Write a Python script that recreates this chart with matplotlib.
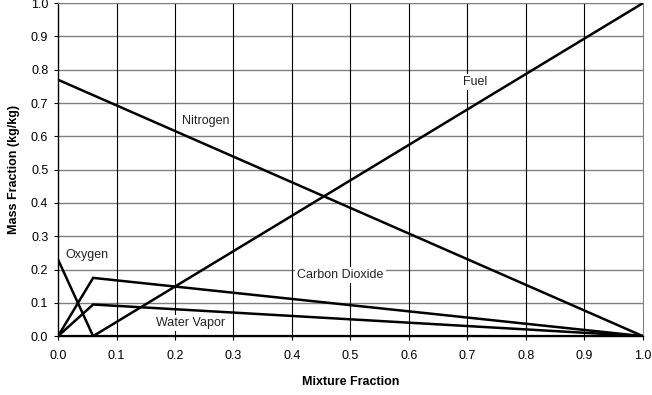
import numpy as np
import matplotlib.pyplot as plt

plt.rcParams['font.family'] = ['Liberation Sans', 'DejaVu Sans']

# mixture fraction breakpoints and species mass fractions
z_pts = [0.0, 0.06, 1.0]
fuel = [0.0, 0.0, 1.0]
oxygen = [0.23, 0.0, 0.0]
nitrogen = [0.77, 0.7238, 0.0]
co2 = [0.0, 0.175, 0.0]
h2o = [0.0, 0.095, 0.0]

species = ['Fuel', 'Oxygen', 'Nitrogen', 'Carbon Dioxide', 'Water Vapor']
series = [fuel, oxygen, nitrogen, co2, h2o]
# label positions (mixture fraction, mass fraction)
label_pos = [(0.714, 0.763), (0.05, 0.243), (0.253, 0.646), (0.483, 0.183), (0.226, 0.039)]

fig = plt.figure(figsize=(6.52, 3.95), dpi=100)
ax = fig.add_axes([0.089, 0.149, 0.897, 0.843])

# grid: gray horizontal, black vertical
for y in np.arange(0.1, 1.01, 0.1):
    ax.axhline(y, color='#808080', linewidth=1.0, zorder=1)
for x in np.arange(0.1, 1.0, 0.1):
    ax.axvline(x, color='black', linewidth=0.8, zorder=1)

for name, vals in zip(species, series):
    ax.plot(z_pts, vals, color='black', linewidth=1.8, zorder=3, solid_joinstyle='miter')

for name, (lx, ly) in zip(species, label_pos):
    ax.text(lx, ly, name, ha='center', va='center', fontsize=9, color='#222222', zorder=4,
            bbox=dict(facecolor='white', edgecolor='none', pad=1.5))

ax.set_xlim(0, 1)
ax.set_ylim(0, 1)
ax.set_xticks(np.arange(0, 1.01, 0.1))
ax.set_yticks(np.arange(0, 1.01, 0.1))
ax.set_xticklabels([f'{v:.1f}' for v in np.arange(0, 1.01, 0.1)])
ax.set_yticklabels([f'{v:.1f}' for v in np.arange(0, 1.01, 0.1)])
ax.tick_params(labelsize=9, length=3, width=0.8, pad=7)
ax.tick_params(axis='y', pad=4)

ax.spines['top'].set_color('#808080')
ax.spines['right'].set_color('#808080')
ax.spines['left'].set_linewidth(1.0)
ax.spines['bottom'].set_linewidth(1.0)

ax.set_xlabel('Mixture Fraction', fontsize=9, fontweight='bold', labelpad=10)
ax.set_ylabel('Mass Fraction (kg/kg)', fontsize=9, fontweight='bold', labelpad=8)

fig.savefig('out.png', dpi=100)
